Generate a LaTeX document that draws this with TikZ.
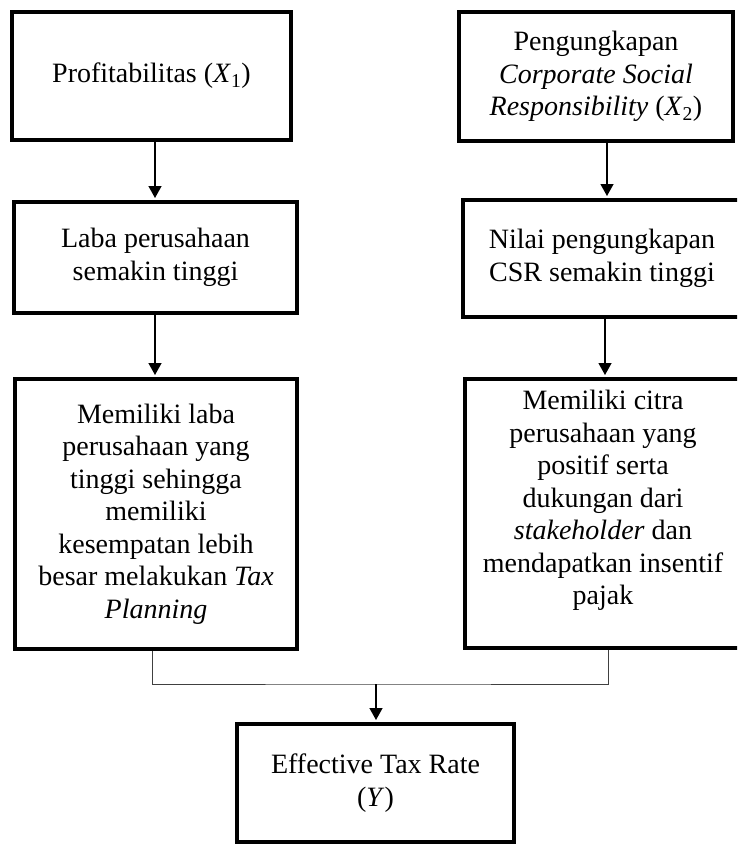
\documentclass[tikz,border=0pt]{standalone}
\usepackage{fontspec}
\setmainfont{Liberation Serif}
\usetikzlibrary{arrows.meta}
\newcommand\bodyfont{\fontsize{28}{32.5}\selectfont}
\begin{document}
\begin{tikzpicture}[x=1pt,y=-1pt,
  box/.style={draw=black, line width=4pt, inner sep=0pt, align=center, font=\bodyfont},
  plaintext/.style={inner sep=0pt, align=center, font=\bodyfont},
  arr/.style={line width=1.3pt, shorten >=2pt, -{Triangle[width=13pt,length=12pt]}},
  joinline/.style={line width=1pt, draw=black!75}]
\useasboundingbox (0,0) rectangle (737,846);
\clip (0,0) rectangle (737,846);
\node[box, minimum width=279pt, minimum height=128pt] (A) at (151.5,76) {Profitabilitas (\textit{X}\textsubscript{1})};
\node[box, minimum width=274pt, minimum height=129pt] (B) at (596,76.5) {Pengungkapan\\ \textit{Corporate Social}\\ \textit{Responsibility} (\textit{X}\textsubscript{2})};
\node[box, minimum width=283pt, minimum height=111pt] (C) at (155.5,257.5) {Laba perusahaan\\semakin tinggi};
\node[box, minimum width=278pt, minimum height=117pt] (D) at (602,258.5) {Nilai pengungkapan\\CSR semakin tinggi};
\node[box, minimum width=282pt, minimum height=270pt] (E) at (156,514) {Memiliki laba\\perusahaan yang\\tinggi sehingga\\memiliki\\kesempatan lebih\\besar melakukan \textit{Tax}\\\textit{Planning}};
\node[box, minimum width=277pt, minimum height=269pt] (F) at (603.5,513.5) {};
\node[plaintext] (Ft) at (603,500.5) {Memiliki citra\\perusahaan yang\\positif serta\\dukungan dari\\\textit{stakeholder} dan\\mendapatkan insentif\\pajak};
\node[box, minimum width=277pt, minimum height=118pt] (G) at (375.5,783) {Effective Tax Rate\\(\textit{Y})};
\coordinate (xa) at (155,0);
\coordinate (xb) at (607,0);
\coordinate (xd) at (605,0);
\coordinate (xe) at (152,0);
\coordinate (xf) at (608,0);
\coordinate (jn) at (376,684);
\draw[arr] (A.south -| xa) -- (C.north -| xa);
\draw[arr] (B.south -| xb) -- (D.north -| xb);
\draw[arr] (C.south -| xa) -- (E.north -| xa);
\draw[arr] (D.south -| xd) -- (F.north -| xd);
\draw[joinline] (E.south -| xe) |- (jn) -| (F.south -| xf);
\draw[arr] (jn) -- (G.north -| jn);
\end{tikzpicture}
\end{document}
